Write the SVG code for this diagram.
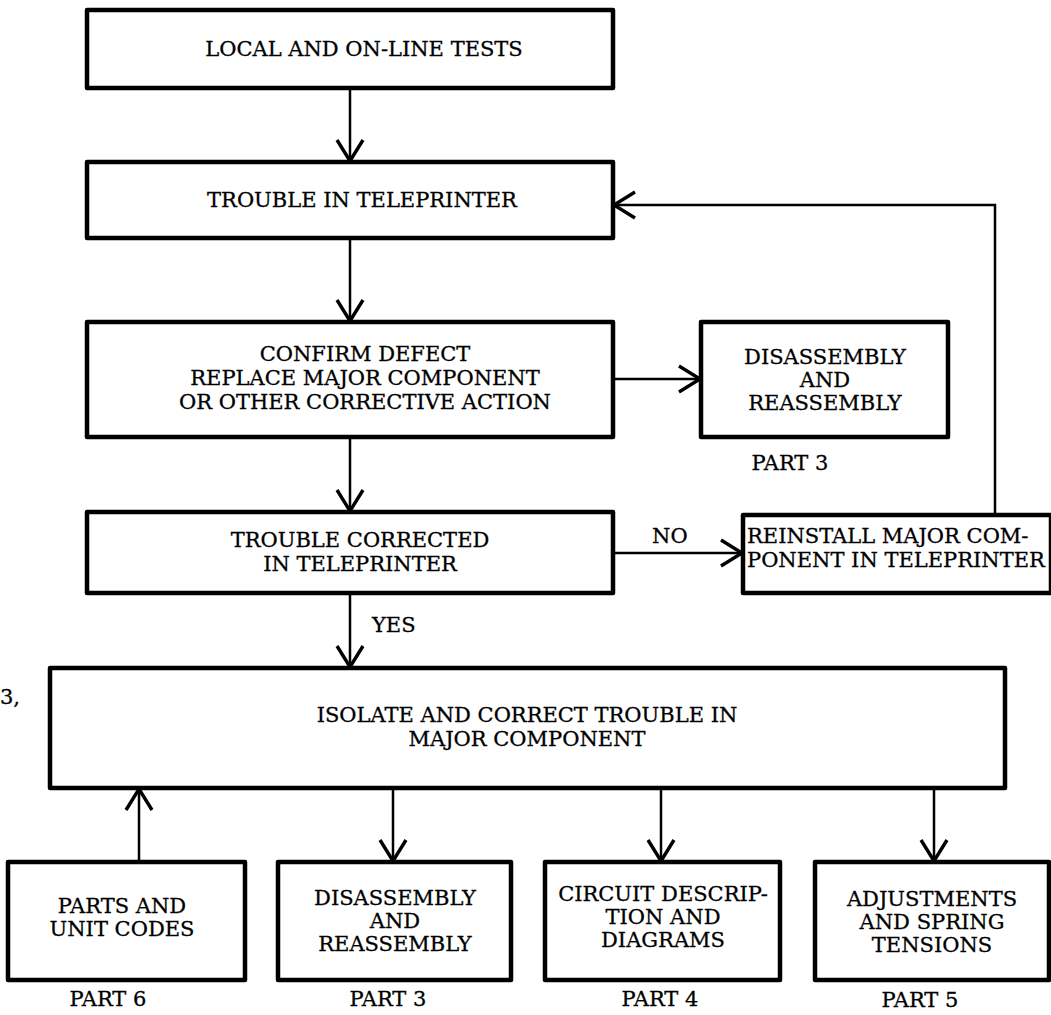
<svg xmlns="http://www.w3.org/2000/svg" width="1051" height="1015" viewBox="0 0 1051 1015">
<defs>
<style>
.box{fill:#fff;stroke:#000;stroke-width:4.5;stroke-linejoin:round}
.t{font-family:"DejaVu Serif","Liberation Serif",serif;font-size:21px;fill:#000;stroke:#000;stroke-width:0.3;text-anchor:middle}
.l{font-family:"DejaVu Serif","Liberation Serif",serif;font-size:21px;fill:#000;stroke:#000;stroke-width:0.3}
.c{fill:none;stroke:#000;stroke-width:2.5}
</style>
<marker id="ah" viewBox="-24 -16 26 32" refX="0" refY="0" markerWidth="26" markerHeight="32" markerUnits="userSpaceOnUse" orient="auto">
<path d="M-21,-13 L0,0 L-21,13" fill="none" stroke="#000" stroke-width="3.4" stroke-linejoin="miter"/>
</marker>
</defs>
<rect width="1051" height="1015" fill="#fff"/>
<g id="connectors">
<path class="c" d="M350,88 V161" marker-end="url(#ah)"/>
<path class="c" d="M350,238 V321" marker-end="url(#ah)"/>
<path class="c" d="M613,379 H700" marker-end="url(#ah)"/>
<path class="c" d="M350,437 V511" marker-end="url(#ah)"/>
<path class="c" d="M613,553 H742" marker-end="url(#ah)"/>
<path class="c" d="M995,515 V205 H614" marker-end="url(#ah)"/>
<path class="c" d="M350,593 V667" marker-end="url(#ah)"/>
<path class="c" d="M139,862 V789" marker-end="url(#ah)"/>
<path class="c" d="M393,788 V861" marker-end="url(#ah)"/>
<path class="c" d="M661,788 V861" marker-end="url(#ah)"/>
<path class="c" d="M934,788 V861" marker-end="url(#ah)"/>
<text class="l" x="652" y="543">NO</text>
<text class="l" x="372" y="632">YES</text>
</g>
<g id="n-local">
<rect class="box" x="87" y="10" width="526" height="78"/>
<text class="t" x="364" y="56">LOCAL AND ON-LINE TESTS</text>
</g>
<g id="n-trouble">
<rect class="box" x="87" y="162" width="526" height="76"/>
<text class="t" x="362" y="207">TROUBLE IN TELEPRINTER</text>
</g>
<g id="n-confirm">
<rect class="box" x="87" y="322" width="526" height="115"/>
<text class="t" x="365" y="361">CONFIRM DEFECT</text>
<text class="t" x="365" y="385">REPLACE MAJOR COMPONENT</text>
<text class="t" x="365" y="409">OR OTHER CORRECTIVE ACTION</text>
</g>
<g id="n-disasm1">
<rect class="box" x="701" y="322" width="247" height="115"/>
<text class="t" x="825" y="364">DISASSEMBLY</text>
<text class="t" x="825" y="387">AND</text>
<text class="t" x="825" y="410">REASSEMBLY</text>
<text class="t" x="790" y="470">PART 3</text>
</g>
<g id="n-corrected">
<rect class="box" x="87" y="512" width="526" height="81"/>
<text class="t" x="360" y="547">TROUBLE CORRECTED</text>
<text class="t" x="360" y="571">IN TELEPRINTER</text>
</g>
<g id="n-reinstall">
<rect class="box" x="743" y="515" width="308" height="78"/>
<text class="l" x="747" y="543">REINSTALL MAJOR COM-</text>
<text class="l" x="747" y="567">PONENT IN TELEPRINTER</text>
</g>
<g id="n-isolate">
<rect class="box" x="50" y="668" width="955" height="120"/>
<text class="t" x="527" y="722">ISOLATE AND CORRECT TROUBLE IN</text>
<text class="t" x="527" y="746">MAJOR COMPONENT</text>
</g>
<text class="l" x="0" y="704">3,</text>
<g id="n-parts">
<rect class="box" x="8" y="862" width="237" height="118"/>
<text class="t" x="122" y="913">PARTS AND</text>
<text class="t" x="122" y="936">UNIT CODES</text>
<text class="t" x="108" y="1006">PART 6</text>
</g>
<g id="n-disasm2">
<rect class="box" x="278" y="862" width="233" height="118"/>
<text class="t" x="395" y="905">DISASSEMBLY</text>
<text class="t" x="395" y="928">AND</text>
<text class="t" x="395" y="951">REASSEMBLY</text>
<text class="t" x="388" y="1006">PART 3</text>
</g>
<g id="n-circuit">
<rect class="box" x="545" y="862" width="235" height="118"/>
<text class="t" x="663" y="901">CIRCUIT DESCRIP-</text>
<text class="t" x="663" y="924">TION AND</text>
<text class="t" x="663" y="947">DIAGRAMS</text>
<text class="t" x="660" y="1006">PART 4</text>
</g>
<g id="n-adjust">
<rect class="box" x="815" y="862" width="234" height="118"/>
<text class="t" x="932" y="906">ADJUSTMENTS</text>
<text class="t" x="932" y="929">AND SPRING</text>
<text class="t" x="932" y="952">TENSIONS</text>
<text class="t" x="920" y="1007">PART 5</text>
</g>
</svg>
